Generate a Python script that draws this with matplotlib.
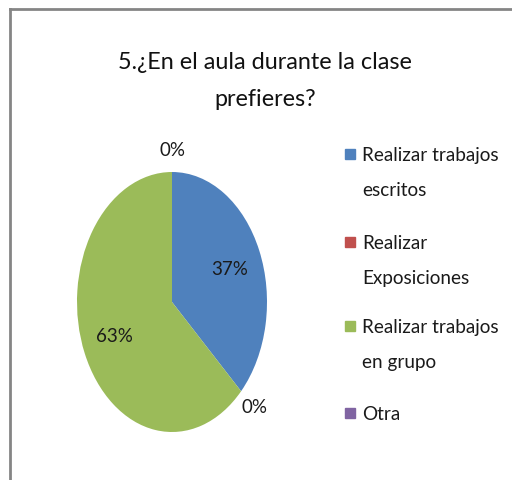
import matplotlib.pyplot as plt
from matplotlib.lines import Line2D
from matplotlib.patches import Rectangle
import numpy as np

# Data
title = "5.¿En el aula durante la clase\nprefieres?"
categories = ["Realizar trabajos\nescritos", "Realizar\nExposiciones",
              "Realizar trabajos\nen grupo", "Otra"]
values = [10, 0, 17, 0]
colors = ["#4F81BD", "#C0504D", "#9BBB59", "#8064A2"]

W, H = 512, 481
plt.rcParams['font.family'] = ['Lato', 'DejaVu Sans']

fig = plt.figure(figsize=(W / 100, H / 100), dpi=100)
renderer = fig.canvas.get_renderer()


def fit_width(txt, target_px):
    # shrink/grow the font so the widest line is target_px wide
    w = txt.get_window_extent(renderer).width
    txt.set_fontsize(txt.get_fontsize() * target_px / w)


# pie area (stretched vertically like the original)
ax = fig.add_axes([77 / W, 1 - 433 / H, 190 / W, 260 / H])
wedges, texts, autotexts = ax.pie(values, colors=colors, startangle=90,
                                  counterclock=False,
                                  autopct=lambda p: '%.0f%%' % p,
                                  pctdistance=0.66,
                                  wedgeprops=dict(linewidth=0),
                                  textprops=dict(fontsize=14, color='#1a1a1a'))
ax.set_aspect('auto')
ax.set_xlim(-1, 1)
ax.set_ylim(-1, 1)

for t in autotexts:
    fit_width(t, 37 if t.get_text() != '0%' else 26)

# zero slices get their label pushed outside
for w, t, v in zip(wedges, autotexts, values):
    if v == 0:
        ang = np.deg2rad((w.theta1 + w.theta2) / 2)
        t.set_position((1.2 * np.cos(ang), 1.17 * np.sin(ang)))

tt = fig.text(265 / W, 1 - 81 / H, title, ha='center', va='center',
              fontsize=20, linespacing=1.9, color='#111111')
fit_width(tt, 294)

# legend
leg_y = [155, 243, 327, 414]
leg_texts = []
for y, lab, c in zip(leg_y, categories, colors):
    fig.add_artist(Rectangle((345 / W, 1 - (y + 5) / H), 10 / W, 10 / H,
                             transform=fig.transFigure, color=c))
    lt = fig.text(362 / W, 1 - (y - 8) / H, lab, ha='left', va='top',
                  fontsize=15, linespacing=2.3, color='#1a1a1a')
    leg_texts.append(lt)

# size the legend font from the widest label
fit_width(leg_texts[0], 136)
for t in leg_texts[1:]:
    t.set_fontsize(leg_texts[0].get_fontsize())

# chart frame (only top and left edges are visible)
fig.add_artist(Line2D([9.7 / W, 9.7 / W], [0, 1 - 9.5 / H], color='#858585', lw=2))
fig.add_artist(Line2D([9.7 / W, 1], [1 - 9.5 / H, 1 - 9.5 / H], color='#858585', lw=2))

fig.savefig('out.png', dpi=100)
